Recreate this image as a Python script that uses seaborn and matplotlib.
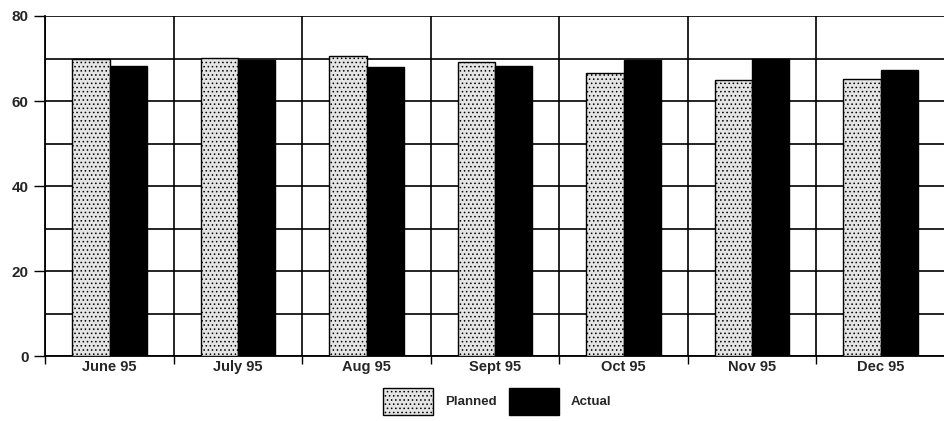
import matplotlib
matplotlib.use("Agg")
import matplotlib.pyplot as plt
import seaborn as sns
import pandas as pd
from matplotlib.patches import Patch

months = ["June 95", "July 95", "Aug 95", "Sept 95", "Oct 95", "Nov 95", "Dec 95"]
planned = [69.8, 70.2, 70.6, 69.2, 66.6, 64.9, 65.2]
actual = [68.2, 69.6, 67.9, 68.3, 69.7, 70.0, 67.4]
series = ["Planned", "Actual"]
y_ticks = [0, 20, 40, 60, 80]

sns.set_theme(style="white")
plt.rcParams["font.family"] = ["Liberation Sans", "DejaVu Sans"]
plt.rcParams["hatch.linewidth"] = 0.6
plt.rcParams["hatch.color"] = "#555555"

df = pd.DataFrame({
    "Month": months * 2,
    "Value": planned + actual,
    "Series": [series[0]] * len(months) + [series[1]] * len(months),
})

fig = plt.figure(figsize=(9.45, 4.21), dpi=100)
ax = fig.add_axes([0.048, 0.154, 0.952, 0.808])

palette = {"Planned": "#e4e4e4", "Actual": "#000000"}
sns.barplot(data=df, x="Month", y="Value", hue="Series", order=months,
            hue_order=series, palette=palette, width=0.58, ax=ax,
            edgecolor="black", linewidth=1.0, saturation=1, legend=False, zorder=3)

for i, bar in enumerate(ax.patches[:len(months)]):
    bar.set_hatch("....")

ax.set_xlim(-0.5, len(months) - 0.5)
ax.set_ylim(0, 80)
ax.set_yticks(y_ticks)
ax.set_yticks([10, 30, 50, 70], minor=True)
ax.set_xticks(range(len(months)))
ax.set_xticklabels(months, fontsize=10.5, fontweight="bold")
ax.set_yticklabels([str(t) for t in y_ticks], fontsize=11, fontweight="bold")
ax.set_xticks([i - 0.5 for i in range(len(months) + 1)], minor=True)
ax.tick_params(axis="x", which="major", length=0, pad=3)
ax.tick_params(axis="x", which="minor", length=6, width=1, color="black", direction="out", bottom=True)
ax.tick_params(axis="y", which="major", length=8, width=1, color="black", direction="out", left=True, pad=4)
ax.tick_params(axis="y", which="minor", length=0)
ax.grid(True, which="minor", axis="both", color="black", linewidth=1.2, zorder=0)
ax.grid(True, which="major", axis="y", color="black", linewidth=1.2, zorder=0)
ax.set_axisbelow(True)
ax.set_xlabel("")
ax.set_ylabel("")
for s in ["top", "right"]:
    ax.spines[s].set_visible(False)
for s in ["left", "bottom"]:
    ax.spines[s].set_color("black")
    ax.spines[s].set_linewidth(1.3)

handles = [Patch(facecolor="#e4e4e4", edgecolor="black", hatch="....", label="Planned"),
           Patch(facecolor="black", edgecolor="black", label="Actual")]
leg = fig.legend(handles=handles, loc="lower center", bbox_to_anchor=(0.526, -0.014), ncol=2,
                 frameon=False, handlelength=3.8, handleheight=2.8, columnspacing=0.9,
                 handletextpad=0.9, prop={"weight": "bold", "size": 9.5})

fig.savefig("out.png", dpi=100)
